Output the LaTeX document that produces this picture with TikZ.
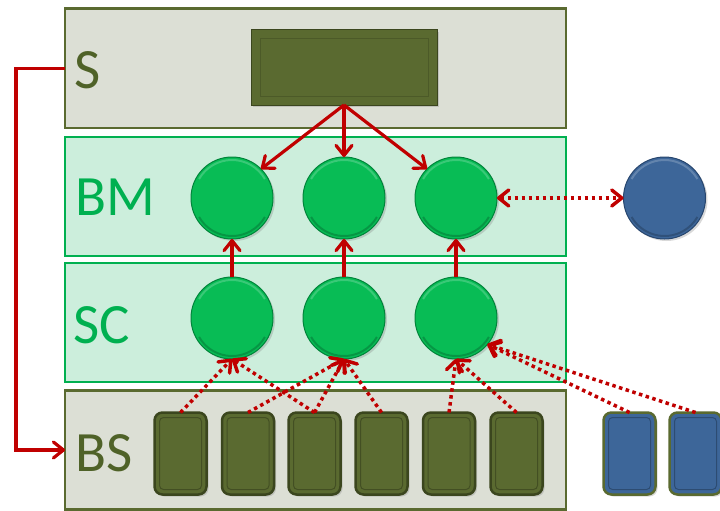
\documentclass[tikz,border=0pt]{standalone}
\usepackage{fontspec}
\setmainfont{Carlito}
\usepackage{tikz}
\usetikzlibrary{arrows.meta, positioning, shadows}
\definecolor{molive}{HTML}{5A6A30}
\definecolor{mdolive}{HTML}{3B461E}
\definecolor{mtext}{HTML}{4F6228}
\definecolor{mgraybg}{HTML}{DCDFD5}
\definecolor{mgreen}{HTML}{00B050}
\definecolor{mgreenbg}{HTML}{CCEEDC}
\definecolor{mball}{HTML}{08BC55}
\definecolor{mdball}{HTML}{00843A}
\definecolor{mblue}{HTML}{3D6699}
\definecolor{mdblue}{HTML}{27466E}
\definecolor{mred}{HTML}{C00000}
\tikzset{
  graybox/.style={draw=molive, fill=mgraybg, line width=2.5pt, minimum width=501pt,
                  minimum height=119pt, inner sep=0pt, outer sep=0pt},
  greenbox/.style={draw=mgreen, fill=mgreenbg, line width=2.5pt, minimum width=501pt,
                   minimum height=119pt, inner sep=0pt, outer sep=0pt},
  lbl/.style={anchor=west, inner sep=0pt, font=\fontsize{57}{60}\selectfont},
  shade/.style={drop shadow={shadow xshift=2pt, shadow yshift=-2pt, opacity=0.3}},
  bevel/.style={path picture={
      \draw[white, opacity=0.2, line width=2pt]
        ([shift={(150:38pt)}]path picture bounding box.center) arc[start angle=150, end angle=30, radius=38pt];
      \draw[black, opacity=0.2, line width=2pt]
        ([shift={(210:38pt)}]path picture bounding box.center) arc[start angle=210, end angle=330, radius=38pt];}},
  ball/.style={circle, draw=mdball, fill=mball, line width=1pt, minimum size=82pt,
               inner sep=0pt, outer sep=0pt, shade, bevel},
  blueball/.style={ball, draw=mdblue, fill=mblue},
  inset/.style={path picture={
      \draw[black, opacity=0.25, line width=1pt, rounded corners=4pt]
        ([shift={(5pt,-5pt)}]path picture bounding box.north west)
        rectangle ([shift={(-5pt,5pt)}]path picture bounding box.south east);}},
  topinset/.style={path picture={
      \draw[black, opacity=0.15, line width=1pt]
        ([shift={(9pt,-9pt)}]path picture bounding box.north west)
        rectangle ([shift={(-9pt,9pt)}]path picture bounding box.south east);}},
  topbox/.style={draw=mdolive, fill=molive, line width=1pt, minimum width=186pt,
                 minimum height=75pt, inner sep=0pt, outer sep=0pt, shade, topinset},
  unit/.style={draw=mdolive, fill=molive, line width=2.5pt, rounded corners=8pt,
               minimum width=52pt, minimum height=82pt, inner sep=0pt, outer sep=0pt, shade, inset},
  bunit/.style={unit, draw=molive, fill=mblue},
  barb/.tip={Straight Barb[length=10pt, width=16pt, round]},
  arr/.style={-barb, line width=3.2pt, mred},
  darr/.style={-barb, line width=3.5pt, mred, dash pattern=on 3.5pt off 3.5pt},
}

\begin{document}
\begin{tikzpicture}[x=1pt, y=-1pt]
  \useasboundingbox (0,0) rectangle (720,511);

  %% Layers
  \node[graybox]  (layerS)  at (315.5,68.25) {};
  \node[greenbox] (layerBM) at (315.5,196.5) {};
  \node[greenbox] (layerSC) at (315.5,322.7) {};
  \node[graybox]  (layerBS) at (315.5,450) {};

  \node[lbl, mtext]  (lS)  at (74,70)    {S};
  \node[lbl, mgreen] (lBM) at (75,197.5) {BM};
  \node[lbl, mgreen] (lSC) at (73,325)   {SC};
  \node[lbl, mtext]  (lBS) at (75,453)   {BS};

  %% Top block
  \node[topbox] (top) at (344,67.5) {};

  %% Circles
  \foreach \i/\x in {1/232, 2/344, 3/456}{
    \node[ball] (bm\i) at (\x,198) {};
    \node[ball] (sc\i) at (\x,318) {};
  }
  \node[blueball] (ext) at (664.5,198) {};

  %% Units
  \foreach \i/\x in {1/180.5, 2/248, 3/314.5, 4/381.5, 5/449, 6/516.5}{
    \node[unit] (b\i) at (\x,453.5) {};
  }
  \node[bunit] (u1) at (629.5,453.5) {};
  \node[bunit] (u2) at (695.5,453.5) {};

  %% Connectors
  \draw[arr] (top.south) -- (bm1.north east);
  \draw[arr] (top.south) -- (bm2.north);
  \draw[arr] (top.south) -- (bm3.north west);
  \foreach \i in {1,2,3}{
    \draw[arr] (sc\i) -- (bm\i);
  }
  \draw[darr, barb-barb] (bm3) -- (ext);

  \foreach \u/\c in {b1/sc1.south, b3/sc1.south, b2/sc2.south, b3/sc2.south, b4/sc2.south,
                     b5/sc3.south, b6/sc3.south, u1/sc3.-40, u2/sc3.-40}{
    \draw[darr] (\u.north) -- (\c);
  }

  \draw[arr] (layerS.west) -- ++(-49,0) |- (layerBS.west);

\end{tikzpicture}
\end{document}
